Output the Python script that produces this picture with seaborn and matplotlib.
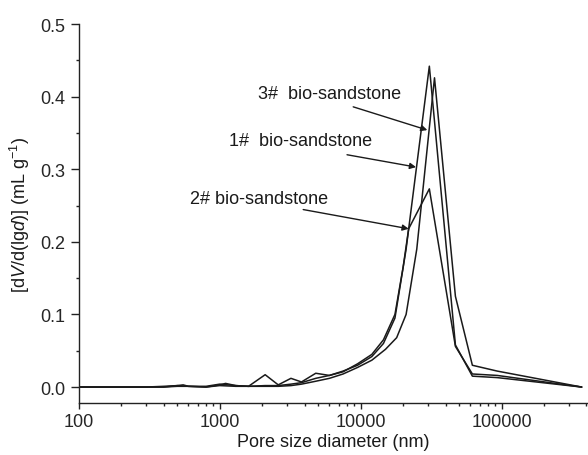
import numpy as np
import pandas as pd
import matplotlib
matplotlib.use('Agg')
import matplotlib.pyplot as plt
import matplotlib.ticker as mticker
import seaborn as sns

# pore size (nm) and dV/dlgd values
x_a = [100, 200, 300, 400, 500, 600, 800, 1000, 1300, 1600, 2100, 2600, 3200, 3800,
       4800, 6000, 7500, 9500, 12000, 14500, 17500, 21000, 30700, 47000, 62000, 93000, 370000]
y_a = [0, 0, 0, 0.001, 0.002, 0.001, 0.001, 0.004, 0.002, 0.001, 0.002, 0.002, 0.004, 0.006,
       0.012, 0.016, 0.022, 0.030, 0.042, 0.060, 0.095, 0.190, 0.442, 0.058, 0.015, 0.013, 0]

x_b = [100, 200, 300, 400, 500, 600, 800, 1000, 1300, 1600, 2100, 2600, 3200, 3800,
       4800, 6000, 7500, 9500, 12000, 15000, 18000, 21000, 25000, 33400, 47000, 62000, 93000, 370000]
y_b = [0, 0, 0, 0, 0.001, 0.001, 0, 0.002, 0.001, 0.001, 0.001, 0.001, 0.002, 0.004,
       0.008, 0.012, 0.018, 0.027, 0.037, 0.052, 0.068, 0.100, 0.190, 0.426, 0.125, 0.030, 0.022, 0]

x_c = [100, 200, 300, 400, 500, 550, 600, 800, 1000, 1100, 1300, 1600, 2100, 2600, 3200, 3800,
       4800, 6000, 7500, 9500, 12000, 14500, 17500, 20000, 21900, 30700, 47000, 62000, 93000, 370000]
y_c = [0, 0, 0, 0, 0.002, 0.003, 0.001, 0, 0.003, 0.005, 0.002, 0.001, 0.017, 0.003, 0.012, 0.007,
       0.019, 0.016, 0.021, 0.032, 0.045, 0.065, 0.100, 0.165, 0.218, 0.273, 0.056, 0.018, 0.016, 0]

labels = ['3#  bio-sandstone', '1#  bio-sandstone', '2# bio-sandstone']
text_pos = [(5980, 0.404), (3720, 0.339), (1890, 0.260)]
arrow_from = [(8850, 0.386), (8000, 0.320), (3910, 0.2445)]
arrow_to = [(29700, 0.354), (24700, 0.303), (21900, 0.218)]

sns.set_theme(style='ticks')
plt.rcParams['font.family'] = ['Liberation Sans', 'DejaVu Sans']
plt.rcParams['mathtext.fontset'] = 'custom'
plt.rcParams['mathtext.rm'] = 'Liberation Sans'
plt.rcParams['mathtext.it'] = 'Liberation Sans:italic'

fig = plt.figure(figsize=(5.88, 4.56), dpi=100)
ax = fig.add_axes([0.134, 0.114, 0.866, 0.831])

lc = '#1a1a1a'
for xs, ys in [(x_a, y_a), (x_b, y_b), (x_c, y_c)]:
    df = pd.DataFrame({'d': xs, 'v': ys})
    sns.lineplot(data=df, x='d', y='v', color=lc, lw=1.1, estimator=None, sort=False, ax=ax)

ax.set_xscale('log')
ax.set_xlim(100, 4.1e5)
ax.set_ylim(-0.022, 0.5)
ax.xaxis.set_major_locator(mticker.FixedLocator([100, 1000, 10000, 100000]))
ax.xaxis.set_major_formatter(mticker.FuncFormatter(lambda v, p: f'{int(round(v))}'))
ax.xaxis.set_minor_locator(mticker.LogLocator(base=10, subs=np.arange(2, 10)))
ax.xaxis.set_minor_formatter(mticker.NullFormatter())
ax.yaxis.set_major_locator(mticker.MultipleLocator(0.1))
ax.yaxis.set_minor_locator(mticker.MultipleLocator(0.05))
ax.yaxis.set_major_formatter(mticker.FormatStrFormatter('%.1f'))

for s in ['top', 'right']:
    ax.spines[s].set_visible(False)
for s in ['left', 'bottom']:
    ax.spines[s].set_color('#222222')
    ax.spines[s].set_linewidth(1.0)

ax.tick_params(axis='y', which='major', direction='out', length=5.5, width=1, labelsize=13, pad=4, color='#222222')
ax.tick_params(axis='y', which='minor', direction='out', length=2.5, width=1, color='#222222')
ax.tick_params(axis='x', which='major', direction='out', length=4, width=1, labelsize=13, pad=3, color='#222222')
ax.tick_params(axis='x', which='minor', direction='out', length=2.5, width=1, color='#222222')

ax.set_xlabel('Pore size diameter (nm)', fontsize=13, labelpad=2, color='#1a1a1a')
ax.set_ylabel(r'[d$V$/d(lg$d$)] (mL g$^{-1}$)', fontsize=13, labelpad=6, color='#1a1a1a')

for lab, tp, af, at in zip(labels, text_pos, arrow_from, arrow_to):
    ax.text(tp[0], tp[1], lab, fontsize=13, ha='center', va='center', color='#1a1a1a')
    ax.annotate('', xy=at, xytext=af,
                arrowprops=dict(arrowstyle='-|>', color='#1a1a1a', lw=1.0,
                                mutation_scale=9, shrinkA=0, shrinkB=0))

fig.savefig('out.png', dpi=100)
